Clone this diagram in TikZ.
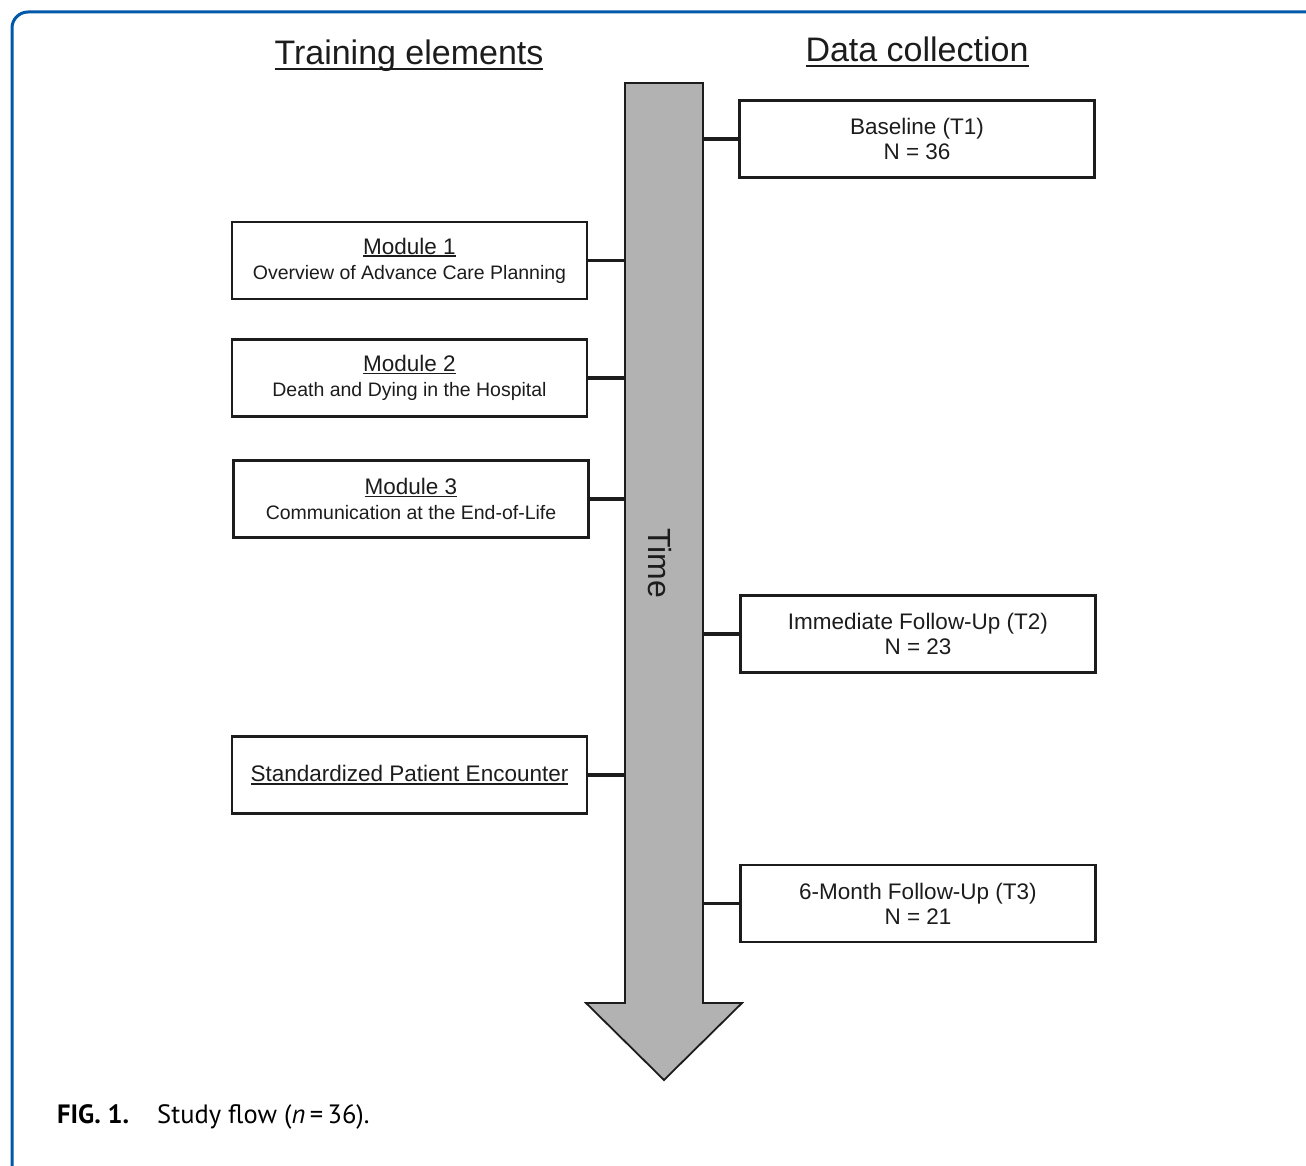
\documentclass[tikz,border=0pt]{standalone}
\usepackage{fontspec}
\setmainfont{Liberation Sans}
\newfontfamily\capfont{PT Sans}
\usetikzlibrary{calc}
\definecolor{frameblue}{RGB}{0,88,168}
\definecolor{arrowgray}{RGB}{178,178,178}
\definecolor{ink}{RGB}{28,28,28}
\newsavebox\ulbox
\newcommand\ulHead[1]{\sbox\ulbox{#1}\rlap{\rule[-0.16em]{\wd\ulbox}{0.07em}}\usebox\ulbox}
\newcommand\ulTitle[1]{\sbox\ulbox{#1}\rlap{\rule[-0.12em]{\wd\ulbox}{0.06em}}\usebox\ulbox}
\newcommand\subfont{\fontsize{19.5}{25}\selectfont}
\tikzset{
  box/.style={draw=ink, line width=2.2pt, minimum width=355pt, minimum height=77pt,
    inner sep=0pt, align=center, text=ink, font=\fontsize{22.5}{25}\selectfont},
  link/.style={draw=ink, line width=3.2pt},
  heading/.style={font=\fontsize{34}{40}\selectfont, text=ink, inner sep=0pt, anchor=base},
  timearrow/.style={draw=ink, fill=arrowgray, line width=1.8pt, line join=miter},
  captext/.style={anchor=base west, inner sep=0pt, text=black, font=\capfont\fontsize{26.5}{30}\selectfont},
}
\begin{document}
\begin{tikzpicture}[x=1pt,y=-1pt]
\useasboundingbox (0,0) rectangle (1306,1166);
% frame
\draw[frameblue, line width=3pt, rounded corners=16pt] (12,1179) -- (12,12) -- (1320,12);
% headings
\node[heading] (hTrain) at (409,65) {\ulHead{Training elements}};
\node[heading] (hData) at (917,62) {\ulHead{Data collection}};
% time arrow
\coordinate (sTL) at (625,83);
\coordinate (sTR) at (703,83);
\draw[timearrow] (sTL) -- (sTR) -- (703,1003) -- (742,1003) -- (664,1080) -- (586,1003) -- (625,1003) -- cycle;
\node[rotate=-90, font=\fontsize{32}{38}\selectfont, text=ink, inner sep=0pt] (time) at (660,563) {Time};
% left boxes
\node[box] (m1) at (409.5,260.5) {\ulTitle{Module 1}\\{\subfont Overview of Advance Care Planning}};
\node[box] (m2) at (409.5,378) {\ulTitle{Module 2}\\{\subfont Death and Dying in the Hospital}};
\node[box] (m3) at (411,499) {\ulTitle{Module 3}\\{\subfont Communication at the End-of-Life}};
\node[box] (sp) at (409.5,775) {\ulTitle{Standardized Patient Encounter}};
% right boxes
\node[box] (t1) at (917,139) {Baseline (T1)\\N = 36};
\node[box] (t2) at (918,634) {Immediate Follow-Up (T2)\\N = 23};
\node[box] (t3) at (918,903.5) {6-Month Follow-Up (T3)\\N = 21};
% connectors
\draw[link] (m1.east) -- (m1.east -| sTL);
\draw[link] (m2.east) -- (m2.east -| sTL);
\draw[link] (m3.east) -- (m3.east -| sTL);
\draw[link] (sp.east) -- (sp.east -| sTL);
\draw[link] (t1.west) -- (t1.west -| sTR);
\draw[link] (t2.west) -- (t2.west -| sTR);
\draw[link] (t3.west) -- (t3.west -| sTR);
% caption
\node[captext] (capfig) at (57,1123) {\textbf{FIG. 1.}};
\node[captext] (captxt) at (157,1123) {Study flow (\textit{n}\,=\,36).};
\end{tikzpicture}
\end{document}
